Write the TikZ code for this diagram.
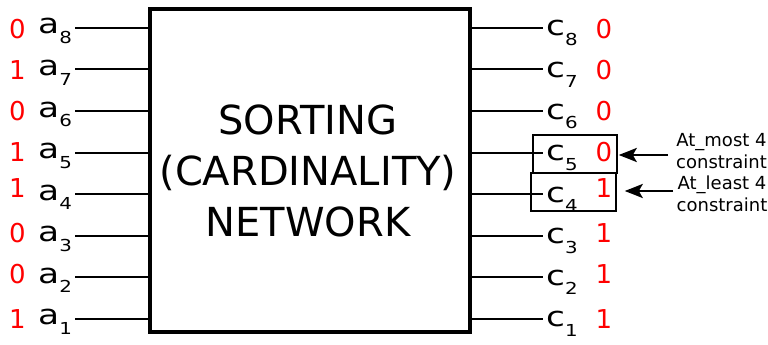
\documentclass[tikz,border=0pt]{standalone}
\usepackage{fontspec}
\usepackage{graphicx}
\setmainfont{DejaVu Sans}
\usetikzlibrary{arrows.meta}
\newcommand\sublbl[2]{\scalebox{1.25}[1]{#1}{\fontsize{16.5}{16.5}\selectfont\raisebox{-9.5pt}{\scalebox{1.2}[1]{#2}}}}
\begin{document}
\begin{tikzpicture}[x=1pt,y=-1pt,
  wire/.style={line width=2pt},
  bit/.style={text=red, font=\fontsize{26}{26}\selectfont, anchor=base, inner sep=0pt},
  lab/.style={font=\fontsize{27.5}{27.5}\selectfont, anchor=base west, inner sep=0pt},
  netbox/.style={draw, line width=4pt, minimum width=320pt, minimum height=323pt, inner sep=0pt},
  selbox/.style={draw, line width=1.5pt, minimum height=38pt, inner sep=0pt},
  note/.style={font=\fontsize{18}{21.5}\selectfont, align=center, inner sep=0pt},
  notearrow/.style={line width=2.8pt, -{Stealth[length=18pt,width=14pt,inset=4pt]}}
]
\useasboundingbox (0,0) rectangle (768,345);
\node[netbox] (net) at (310,170.5) {};
\node[font=\fontsize{40}{51}\selectfont, align=center, inner sep=0pt] (title) at (308,171) {SORTING\\(CARDINALITY)\\NETWORK};
\foreach \i/\bL/\bR/\bl in {8/0/0/38, 7/1/0/80, 6/0/0/120, 5/1/0/161, 4/1/1/197, 3/0/1/242, 2/0/1/283, 1/1/1/328}{
  \pgfmathsetmacro\yy{28+(8-\i)*41.5}
  \node[bit] (la\i) at (17.5,\bl) {\bL};
  \node[lab] (a\i) at (38,\yy+6) {\sublbl{a}{\i}};
  \coordinate (ina\i) at (75,\yy);
  \draw[wire] (ina\i) -- (ina\i -| net.west);
  \coordinate (outc\i) at (543,\yy);
  \draw[wire] (outc\i -| net.east) -- (outc\i);
  \node[lab] (c\i) at (546,\yy+8) {\sublbl{c}{\i}};
  \node[bit] (rc\i) at (604,\bl) {\bR};
}
\node[selbox, minimum width=84pt] (box5) at (575,154) {};
\node[selbox, minimum width=85pt] (box4) at (573.5,192) {};
\node[note] (n5) at (721.5,151) {At\_most 4\\constraint};
\node[note] (n4) at (722,194) {At\_least 4\\constraint};
\coordinate (t5) at (668,155);
\coordinate (t4) at (673,191);
\draw[notearrow, shorten >=1pt] (t5) -- (box5.east |- t5);
\draw[notearrow, shorten >=8pt] (t4) -- (box4.east |- t4);
\end{tikzpicture}
\end{document}
